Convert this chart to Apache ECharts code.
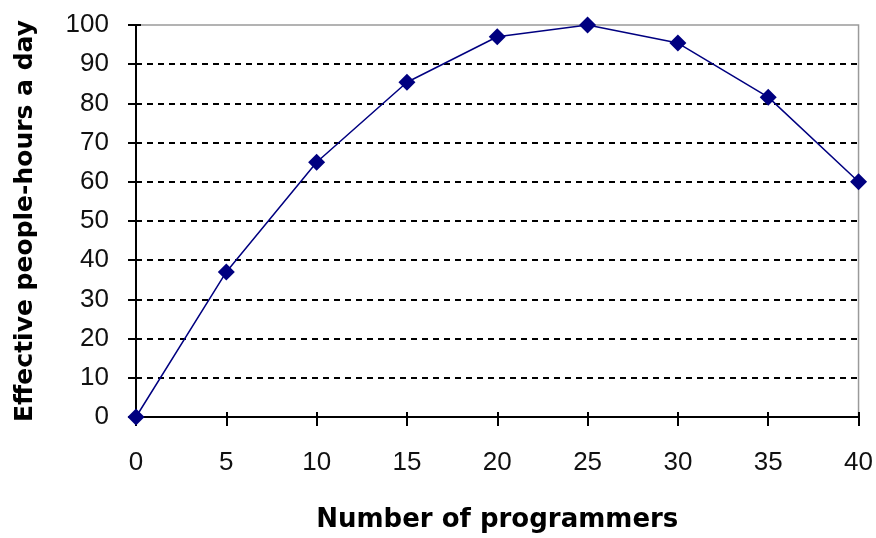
<!DOCTYPE html>
<html>
<head>
<meta charset="utf-8">
<script src="https://cdn.jsdelivr.net/npm/echarts@6/dist/echarts.min.js"></script>
<style>
  html, body { margin: 0; padding: 0; background: #fff; }
  #chart { width: 876px; height: 538px; }
</style>
</head>
<body>
<div id="chart"></div>
<script>
// Team size vs. effective output
const programmers = [0, 5, 10, 15, 20, 25, 30, 35, 40];
const effectiveHours = [0, 37, 65, 85.4, 97, 100, 95.4, 81.6, 60];
const xTicks = [0, 5, 10, 15, 20, 25, 30, 35, 40];
const yTicks = [0, 10, 20, 30, 40, 50, 60, 70, 80, 90, 100];

const points = programmers.map((p, i) => [p, effectiveHours[i]]);
const labelFont = 'Liberation Sans, Arial, sans-serif';
const titleFont = 'DejaVu Sans, Verdana, sans-serif';

const xRange = { min: xTicks[0], max: xTicks[xTicks.length - 1], interval: 5 };
const yRange = { min: yTicks[0], max: yTicks[yTicks.length - 1], interval: 10 };

// Second, label-free axis of each kind draws the inner half of the crossing ticks
const innerTicks = (range, len) => Object.assign({
  type: 'value',
  axisLine: { show: false },
  axisTick: { show: true, inside: true, length: len, lineStyle: { color: '#000', width: 2 } },
  axisLabel: { show: false },
  splitLine: { show: false }
}, range);

const chart = echarts.init(document.getElementById('chart'));
chart.setOption({
  animation: false,
  backgroundColor: '#ffffff',
  grid: {
    left: 136, top: 25, width: 724, height: 395,
    show: true, borderColor: '#9a9a9a', borderWidth: 1.5, backgroundColor: 'transparent'
  },
  xAxis: [Object.assign({
    type: 'value',
    name: 'Number of programmers',
    nameLocation: 'middle', nameGap: 90,
    nameTextStyle: { fontFamily: titleFont, fontWeight: 'bold', fontSize: 26, color: '#000' },
    axisLine: { show: true, lineStyle: { color: '#000', width: 2 } },
    axisTick: { show: true, inside: false, length: 9, lineStyle: { color: '#000', width: 2 } },
    axisLabel: { margin: 33, fontFamily: labelFont, fontSize: 26, color: '#111' },
    splitLine: { show: false }
  }, xRange), Object.assign(innerTicks(xRange, 5), { position: 'bottom' })],
  yAxis: [Object.assign({
    type: 'value',
    name: 'Effective people-hours a day',
    nameLocation: 'middle', nameGap: 98,
    nameTextStyle: { fontFamily: titleFont, fontWeight: 'bold', fontSize: 25, color: '#000' },
    axisLine: { show: true, lineStyle: { color: '#000', width: 2 } },
    axisTick: { show: true, inside: false, length: 8, lineStyle: { color: '#000', width: 2 } },
    axisLabel: { margin: 27, fontFamily: labelFont, fontSize: 26, color: '#111' },
    splitLine: { show: true, showMinLine: false, showMaxLine: false,
      lineStyle: { color: '#000', width: 2, type: [6, 5] } }
  }, yRange), Object.assign(innerTicks(yRange, 5), { position: 'left' })],
  series: [{
    type: 'line',
    data: points,
    smooth: false,
    symbol: 'diamond',
    symbolSize: 17,
    itemStyle: { color: '#000080' },
    lineStyle: { color: '#000080', width: 1.5 },
    clip: false,
    z: 5
  }]
});
</script>
</body>
</html>
